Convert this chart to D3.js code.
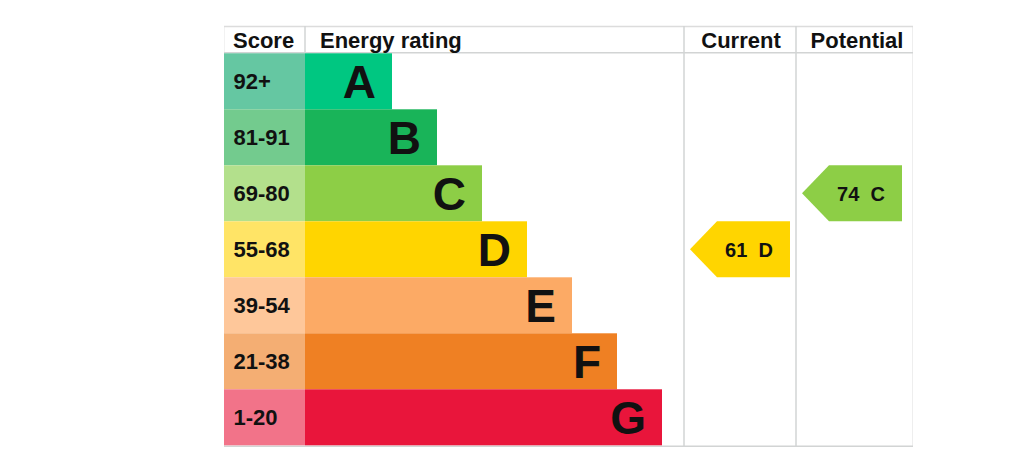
<!DOCTYPE html>
<html>
<head>
<meta charset="utf-8">
<script src="https://cdn.jsdelivr.net/npm/d3@7/dist/d3.min.js"></script>
<style>
  html, body { margin: 0; padding: 0; background: #fff; }
  svg { display: block; font-family: "Liberation Sans", Arial, Helvetica, sans-serif; }
</style>
</head>
<body>
<svg id="chart" width="1024" height="472"></svg>
<script>
// ---- data ----
const bands = ["A", "B", "C", "D", "E", "F", "G"];
const scoreRanges = ["92+", "81-91", "69-80", "55-68", "39-54", "21-38", "1-20"];
const barSteps = [1, 2, 3, 4, 5, 6, 7];
const barColors = ["#00c781", "#19b459", "#8dce46", "#ffd500", "#fcaa65", "#ef8023", "#e9153b"];
const scoreColors = ["#65c7a2", "#73cb8e", "#b3e08c", "#ffe466", "#fec79a", "#f4ae73", "#f27389"];
const headers = ["Score", "Energy rating", "Current", "Potential"];
const ratings = [
  { column: "Current", score: 61, band: "D" },
  { column: "Potential", score: 74, band: "C" }
];

// ---- layout ----
const svg = d3.select("#chart");
const tLeft = 224, tRight = 913, tTop = 26, headerBottom = 53.3, tBottom = 445.3;
const scoreRight = 305;
const colEdges = { "Current": [684, 796], "Potential": [796, 913] };

const y = d3.scaleBand().domain(bands).range([headerBottom, tBottom]).padding(0);
const x = d3.scaleLinear().domain([0, 7]).range([347, 662]);
const color = d3.scaleOrdinal().domain(bands).range(barColors);
const scoreColor = d3.scaleOrdinal().domain(bands).range(scoreColors);

const lineColor = "#d2d4d4";

// faint outer borders
svg.append("line").attr("x1", tLeft + 0.5).attr("x2", tLeft + 0.5).attr("y1", tTop).attr("y2", tBottom + 1)
  .attr("stroke", "#f2f2f2").attr("stroke-width", 1);
svg.append("line").attr("x1", tRight - 0.5).attr("x2", tRight - 0.5).attr("y1", tTop).attr("y2", tBottom + 1)
  .attr("stroke", "#eeeeee").attr("stroke-width", 1);

// top line and header bottom line
svg.append("line").attr("x1", tLeft).attr("x2", tRight).attr("y1", tTop + 0.5).attr("y2", tTop + 0.5)
  .attr("stroke", "#dcdcdc").attr("stroke-width", 1.5);
svg.append("line").attr("x1", tLeft).attr("x2", tRight).attr("y1", headerBottom - 0.5).attr("y2", headerBottom - 0.5)
  .attr("stroke", lineColor).attr("stroke-width", 1.5);
// header divider between score and energy rating
svg.append("line").attr("x1", scoreRight).attr("x2", scoreRight).attr("y1", tTop).attr("y2", headerBottom)
  .attr("stroke", lineColor).attr("stroke-width", 1.5);
// column dividers
[684, 796].forEach(cx => {
  svg.append("line").attr("x1", cx).attr("x2", cx).attr("y1", tTop).attr("y2", tBottom + 1)
    .attr("stroke", lineColor).attr("stroke-width", 1.5);
});
// bottom line
svg.append("line").attr("x1", tLeft).attr("x2", tRight).attr("y1", tBottom + 1).attr("y2", tBottom + 1)
  .attr("stroke", lineColor).attr("stroke-width", 1.5);

// headers
const headerY = 47.5;
svg.append("text").attr("x", 233).attr("y", headerY).text(headers[0])
  .attr("font-size", 22).attr("font-weight", "bold").attr("fill", "#111");
svg.append("text").attr("x", 320).attr("y", headerY).text(headers[1])
  .attr("font-size", 22).attr("font-weight", "bold").attr("fill", "#111");
svg.append("text").attr("x", 741).attr("y", headerY).attr("text-anchor", "middle").text(headers[2])
  .attr("font-size", 22).attr("font-weight", "bold").attr("fill", "#111");
svg.append("text").attr("x", 857).attr("y", headerY).attr("text-anchor", "middle").text(headers[3])
  .attr("font-size", 22).attr("font-weight", "bold").attr("fill", "#111");

// rows
const rows = svg.selectAll("g.row").data(bands).join("g").attr("class", "row");

rows.append("rect")
  .attr("x", tLeft).attr("y", d => y(d))
  .attr("width", scoreRight - tLeft).attr("height", y.bandwidth())
  .attr("fill", d => scoreColor(d));

rows.append("rect")
  .attr("x", scoreRight).attr("y", d => y(d))
  .attr("width", (d, i) => x(barSteps[i]) - scoreRight).attr("height", y.bandwidth())
  .attr("fill", d => color(d));

rows.append("text")
  .attr("x", 233.5).attr("y", d => y(d) + y.bandwidth() / 2 + 8)
  .text((d, i) => scoreRanges[i])
  .attr("font-size", 22).attr("font-weight", "bold").attr("fill", "#111");

rows.append("text")
  .attr("x", (d, i) => x(barSteps[i]) - 16).attr("y", d => y(d) + y.bandwidth() / 2 + 16.5)
  .attr("text-anchor", "end")
  .text(d => d)
  .attr("font-size", 46).attr("font-weight", "bold").attr("fill", "#111");

// rating arrows
const arrowW = 100, tipW = 27;
const arrows = svg.selectAll("g.arrow").data(ratings).join("g").attr("class", "arrow");
arrows.append("path")
  .attr("d", d => {
    const x0 = colEdges[d.column][0] + 6;
    const y0 = y(d.band), h = y.bandwidth();
    const p = d3.path();
    p.moveTo(x0, y0 + h / 2);
    p.lineTo(x0 + tipW, y0);
    p.lineTo(x0 + arrowW, y0);
    p.lineTo(x0 + arrowW, y0 + h);
    p.lineTo(x0 + tipW, y0 + h);
    p.closePath();
    return p.toString();
  })
  .attr("fill", d => color(d.band));
arrows.append("text")
  .attr("x", d => colEdges[d.column][0] + 6 + 59)
  .attr("y", d => y(d.band) + y.bandwidth() / 2 + 7.5)
  .attr("text-anchor", "middle")
  .text(d => `${d.score}\u00a0\u00a0${d.band}`)
  .attr("font-size", 20).attr("font-weight", "bold").attr("fill", "#111");
</script>
</body>
</html>
